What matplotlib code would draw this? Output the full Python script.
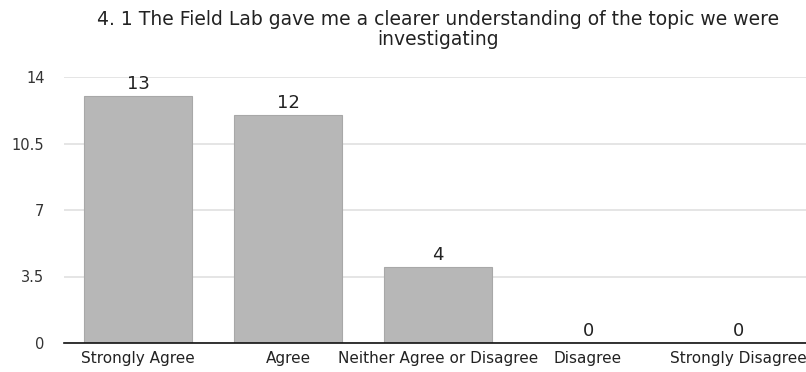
import matplotlib.pyplot as plt

plt.rcParams['font.family'] = ['DejaVu Sans']

categories = ["Strongly Agree", "Agree", "Neither Agree or Disagree", "Disagree", "Strongly Disagree"]
counts = [13, 12, 4, 0, 0]
yticks = [0, 3.5, 7, 10.5, 14]
ytick_labels = ["0", "3.5", "7", "10.5", "14"]
title = "4. 1 The Field Lab gave me a clearer understanding of the topic we were\ninvestigating"

fig = plt.figure(figsize=(8.06, 3.72), dpi=100)
ax = fig.add_axes([64 / 806, 1 - 343 / 372, 1 - 64 / 806, (343 - 77) / 372])

x = range(len(categories))
ax.bar(x, counts, width=0.72, color="#b7b7b7", edgecolor="#a8a8a8", linewidth=0.8, zorder=2)

# value labels above each bar
for xi, c in zip(x, counts):
    ax.text(xi, c + 0.38, str(c), ha="center", va="baseline", fontsize=13, color="#222222")

ax.set_ylim(0, 14)
ax.set_xlim(-0.493, 4.453)
ax.set_yticks(yticks)
ax.set_yticklabels(ytick_labels, fontsize=10.5, color="#333333")
ax.set_xticks(list(x))
ax.set_xticklabels(categories, fontsize=11, color="#222222")
ax.tick_params(axis="both", length=0)
ax.tick_params(axis="y", pad=14)
ax.tick_params(axis="x", pad=6)

ax.grid(axis="y", color="#e3e3e3", linewidth=1.3, zorder=0)
for side in ["top", "right", "left"]:
    ax.spines[side].set_visible(False)
ax.spines["bottom"].set_color("#111111")
ax.spines["bottom"].set_linewidth(1.2)
ax.spines["bottom"].set_zorder(3)

fig.text(438 / 806, 0.972, title, ha="center", va="top", fontsize=13.5, color="#222222", linespacing=1.05)

fig.savefig("out.png", dpi=100)
